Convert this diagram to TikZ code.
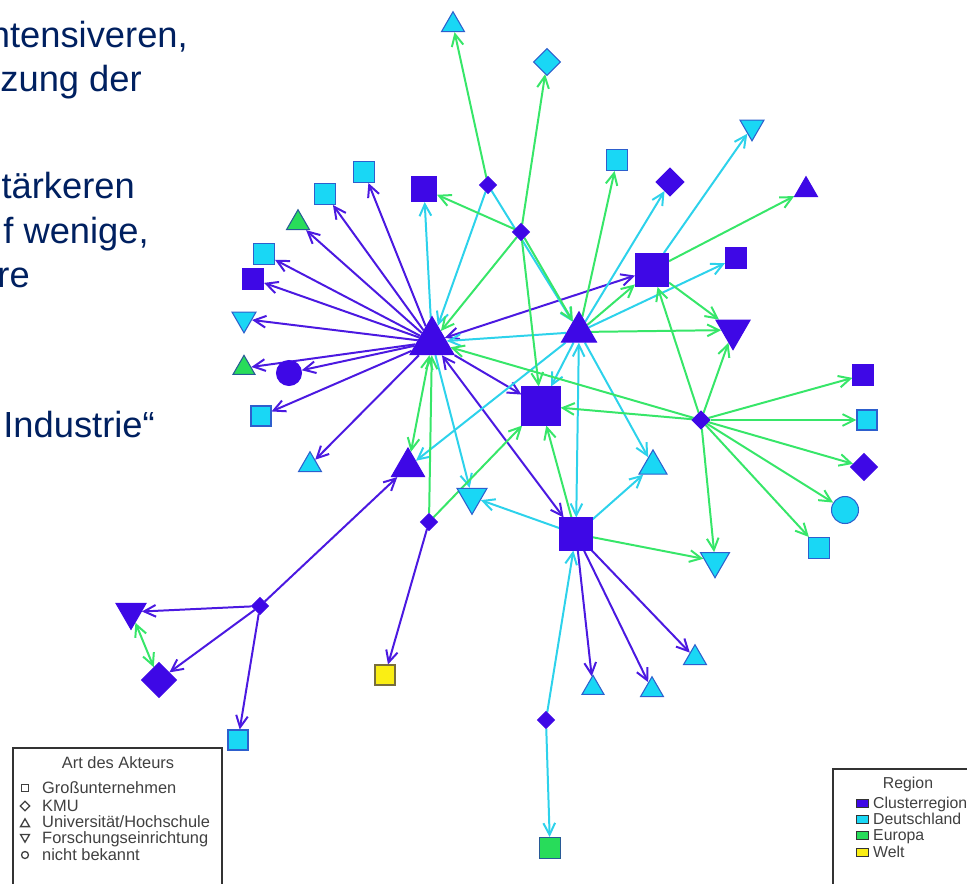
\documentclass[tikz,border=0pt]{standalone}
\usepackage{fontspec}
\setmainfont{Liberation Sans}
\usetikzlibrary{shapes.geometric,arrows.meta,backgrounds}

\definecolor{clus}{RGB}{62,8,230}
\definecolor{deut}{RGB}{25,215,245}
\definecolor{deutrand}{RGB}{45,95,205}
\definecolor{euro}{RGB}{40,220,90}
\definecolor{eurorand}{RGB}{40,90,150}
\definecolor{welt}{RGB}{250,238,20}
\definecolor{weltrand}{RGB}{120,110,60}
\definecolor{lilakante}{RGB}{75,25,225}
\definecolor{tuerkiskante}{RGB}{45,210,235}
\definecolor{gruenkante}{RGB}{55,230,105}
\definecolor{textblau}{RGB}{0,32,96}

\tikzset{
  akt/.style={draw, line width=0.9pt, inner sep=0pt},
  gu/.style={akt, rectangle, minimum size=#1*0.03cm},
  kmu/.style={akt, diamond, minimum size=#1*0.03cm},
  uni/.style={akt, regular polygon, regular polygon sides=3, minimum size=#1*0.03464cm},
  fe/.style={akt, regular polygon, regular polygon sides=3, shape border rotate=180, minimum size=#1*0.03464cm},
  nb/.style={akt, circle, minimum size=#1*0.03cm},
  cr/.style={fill=clus, draw=clus},
  de/.style={fill=deut, draw=deutrand},
  eu/.style={fill=euro, draw=eurorand},
  we/.style={fill=welt, draw=weltrand},
  lila/.style={draw=lilakante, line width=1.7pt},
  tuerkis/.style={draw=tuerkiskante, line width=1.7pt},
  gruen/.style={draw=gruenkante, line width=1.7pt},
  fliess/.style={anchor=base east, inner sep=0pt, text=textblau, font=\fontsize{31}{37}\selectfont},
  legtext/.style={anchor=base west, inner sep=0pt, text=black!75, font=\fontsize{14}{16}\selectfont},
  regtext/.style={legtext, font=\fontsize{13.5}{15}\selectfont},
  legsym/.style={fill=white, draw=black!75, line width=1.1pt},
  legbox/.style={draw=black!80, line width=0.8pt, inner sep=0pt, minimum width=0.36cm, minimum height=0.24cm}
}

\begin{document}
\begin{tikzpicture}[x=0.03cm, y=-0.03cm, >={Straight Barb[length=10pt,width=10pt]}]
    \useasboundingbox (0,0) rectangle (967,883);

    % 1. Văn bản bên trái
    \node[fliess] (z1) at (188,47) {ntensiveren,};
    \node[fliess] (z2) at (142,91) {zung der};
    \node[fliess] (z3) at (135,198) {tärkeren};
    \node[fliess] (z4) at (149,243) {f wenige,};
    \node[fliess] (z5) at (30,287) {re};
    \node[fliess] (z6) at (155,437) {Industrie“};

    % 2. Các nút: Großunternehmen
    \node[gu=25, cr] (G1) at (424,189) {};
    \node[gu=21, de] (G2) at (364,172) {};
    \node[gu=21, de] (G3) at (325,194) {};
    \node[gu=21, de] (G4) at (264,254) {};
    \node[gu=21, cr] (G5) at (253,279) {};
    \node[gu=21, de] (G6) at (617,160) {};
    \node[gu=33, cr] (G7) at (652,270) {};
    \node[gu=21, cr] (G8) at (736,258) {};
    \node[gu=20, de] (G9) at (261,416) {};
    \node[gu=38, cr] (G10) at (541,406) {};
    \node[gu=32, cr] (G11) at (576,534) {};
    \node[gu=20, cr] (G12) at (863,375) {};
    \node[gu=20, de] (G13) at (867,420) {};
    \node[gu=21, de] (G14) at (819,548) {};
    \node[gu=20, de] (G15) at (238,740) {};
    \node[gu=20, we] (G16) at (385,675) {};
    \node[gu=21, eu] (G17) at (550,848) {};

    % KMU
    \node[kmu=27, de] (K1) at (547,62) {};
    \node[kmu=17, cr] (K2) at (488,185) {};
    \node[kmu=17, cr] (K3) at (521,232) {};
    \node[kmu=28, cr] (K4) at (670,182) {};
    \node[kmu=17, cr] (K5) at (429,522) {};
    \node[kmu=18, cr] (K6) at (701,420) {};
    \node[kmu=27, cr] (K7) at (864,467) {};
    \node[kmu=17, cr] (K8) at (260,606) {};
    \node[kmu=35, cr] (K9) at (159,680) {};
    \node[kmu=17, cr] (K10) at (546,720) {};

    % Universität/Hochschule
    \node[uni=23, de] (U1) at (453,25) {};
    \node[uni=23, eu] (U2) at (298,223) {};
    \node[uni=23, cr] (U3) at (806,190) {};
    \node[uni=35, cr] (U4) at (579,332) {};
    \node[uni=44, cr] (U5) at (432,342) {};
    \node[uni=22, eu] (U6) at (244,368) {};
    \node[uni=23, de] (U7) at (310,465) {};
    \node[uni=33, cr] (U8) at (408,467) {};
    \node[uni=28, de] (U9) at (653,466) {};
    \node[uni=22, de] (U10) at (593,688) {};
    \node[uni=23, de] (U11) at (652,690) {};
    \node[uni=23, de] (U12) at (695,658) {};

    % Forschungseinrichtung
    \node[fe=24, de] (F1) at (752,127) {};
    \node[fe=34, cr] (F2) at (733,330) {};
    \node[fe=24, de] (F3) at (244,319) {};
    \node[fe=30, de] (F4) at (472,497) {};
    \node[fe=29, de] (F5) at (715,561) {};
    \node[fe=30, cr] (F6) at (131,612) {};

    % nicht bekannt
    \node[nb=25, cr] (nb1) at (289,373) {};
    \node[nb=27, de] (nb2) at (845,510) {};

    % 3. Các cạnh (vẽ phía sau các nút)
    \begin{scope}[on background layer]
    \draw[lila,->] (U5) -- (G5);
    \draw[lila,->] (U5) -- (G4);
    \draw[lila,->] (U5) -- (U2);
    \draw[lila,->] (U5) -- (G3);
    \draw[lila,->] (U5) -- (G2);
    \draw[lila,->] (U5) -- (F3);
    \draw[lila,->] (U5) -- (U6);
    \draw[lila,->] (U5) -- (nb1);
    \draw[lila,->] (U5) -- (G9);
    \draw[lila,->] (U5) -- (U7);
    \draw[lila,->] (U5) -- (G10);
    \draw[lila,<->] (U5) -- (G11);
    \draw[lila,<->] (U5) -- (G7);
    \draw[lila,->] (K8) -- (U8);
    \draw[lila,->] (K8) -- (F6);
    \draw[lila,->] (K8) -- (K9);
    \draw[lila,->] (K8) -- (G15);
    \draw[lila,->] (K5) -- (G16);
    \draw[lila,->] (G11) -- (U10);
    \draw[lila,->] (G11) -- (U11);
    \draw[lila,->] (G11) -- (U12);

    \draw[tuerkis,->] (K2) -- (U5);
    \draw[tuerkis,->] (K2) -- (U4);
    \draw[tuerkis,->] (U5) -- (G1);
    \draw[tuerkis,->] (U5) -- (F4);
    \draw[tuerkis,->] (U4) -- (K4);
    \draw[tuerkis,->] (G7) -- (F1);
    \draw[tuerkis,->] (U4) -- (G8);
    \draw[tuerkis,->] (U4) -- (U5);
    \draw[tuerkis,->] (U4) -- (G10);
    \draw[tuerkis,<->] (U4) -- (G11);
    \draw[tuerkis,->] (U4) -- (U9);
    \draw[tuerkis,->] (U4) -- (U8);
    \draw[tuerkis,->] (G11) -- (U9);
    \draw[tuerkis,->] (G11) -- (F4);
    \draw[tuerkis,->] (K10) -- (G11);
    \draw[tuerkis,->] (K10) -- (G17);

    \draw[gruen,->] (K2) -- (U1);
    \draw[gruen,->] (K3) -- (K1);
    \draw[gruen,->] (K3) -- (G1);
    \draw[gruen,->] (K3) -- (U5);
    \draw[gruen,->] (K3) -- (U4);
    \draw[gruen,->] (K3) -- (G10);
    \draw[gruen,->] (U4) -- (G6);
    \draw[gruen,->] (U4) -- (G7);
    \draw[gruen,->] (U4) -- (F2);
    \draw[gruen,->] (G7) -- (U3);
    \draw[gruen,->] (G7) -- (F2);
    \draw[gruen,->] (K6) -- (G12);
    \draw[gruen,->] (K6) -- (G13);
    \draw[gruen,->] (K6) -- (K7);
    \draw[gruen,->] (K6) -- (nb2);
    \draw[gruen,->] (K6) -- (G14);
    \draw[gruen,->] (K6) -- (F5);
    \draw[gruen,->] (K6) -- (F2);
    \draw[gruen,->] (K6) -- (G10);
    \draw[gruen,->] (K6) -- (U5);
    \draw[gruen,->] (K6) -- (G7);
    \draw[gruen,->] (G11) -- (G10);
    \draw[gruen,->] (G11) -- (F5);
    \draw[gruen,->] (K5) -- (U5);
    \draw[gruen,->] (K5) -- (G10);
    \draw[gruen,<->] (U5) -- (U8);
    \draw[gruen,<->] (F6) -- (K9);
    \end{scope}

    % 4. Chú giải: Art des Akteurs
    \draw[line width=1pt, black!80] (13,748) rectangle (222,895);
    \node[legtext, anchor=base] (artTitel) at (118,768) {Art des Akteurs};
    \node[gu=7, legsym] (s1) at (25,788) {};
    \node[kmu=10, legsym] (s2) at (25,806) {};
    \node[uni=9, legsym] (s3) at (25,824) {};
    \node[fe=9, legsym] (s4) at (25,837) {};
    \node[nb=7, legsym] (s5) at (25,855) {};
    \node[legtext] (l1) at (42,793) {Großunternehmen};
    \node[legtext] (l2) at (42,811) {KMU};
    \node[legtext] (l3) at (42,827) {Universität/Hochschule};
    \node[legtext] (l4) at (42,843) {Forschungseinrichtung};
    \node[legtext] (l5) at (42,860) {nicht bekannt};

    % 5. Chú giải: Region
    \draw[line width=1pt, black!80] (833,769) rectangle (995,895);
    \node[regtext, anchor=base] (regTitel) at (908,788) {Region};
    \node[legbox, fill=clus] (b1) at (862,803) {};
    \node[legbox, fill=deut] (b2) at (862,819) {};
    \node[legbox, fill=euro] (b3) at (862,835) {};
    \node[legbox, fill=welt] (b4) at (862,852) {};
    \node[regtext] (r1) at (873,808) {Clusterregion};
    \node[regtext] (r2) at (873,824) {Deutschland};
    \node[regtext] (r3) at (873,840) {Europa};
    \node[regtext] (r4) at (873,857) {Welt};
\end{tikzpicture}
\end{document}
